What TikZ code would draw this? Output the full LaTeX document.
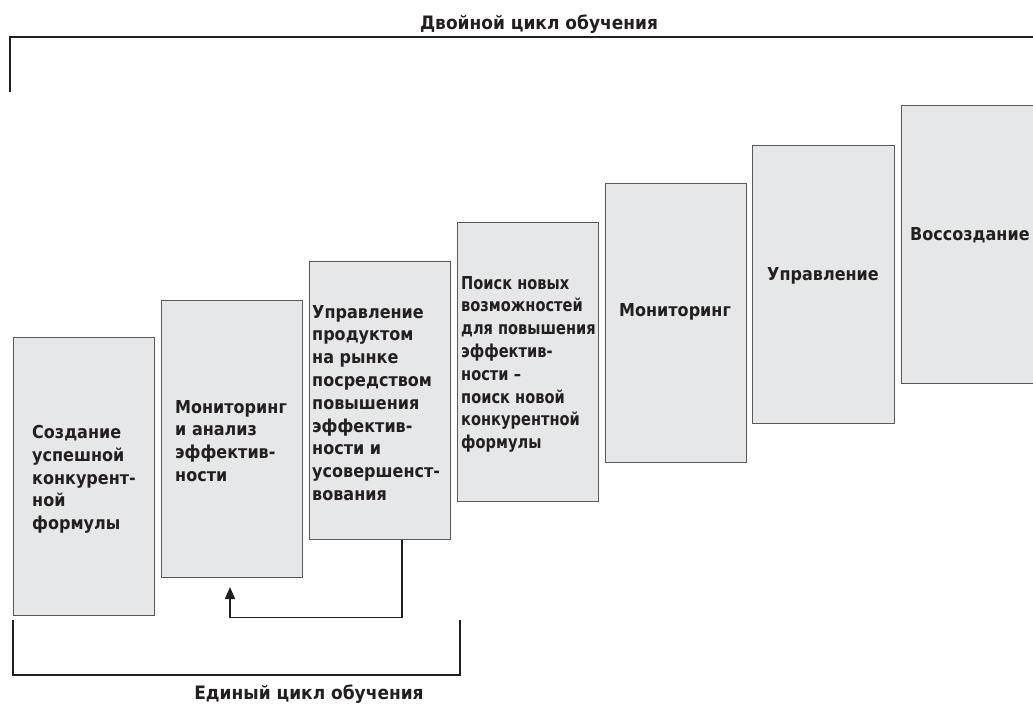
\documentclass[tikz,border=0pt]{standalone}
\usepackage{fontspec}
\setmainfont[FakeStretch=0.9]{DejaVu Sans}
\newfontfamily\narrowfont[FakeStretch=0.82]{DejaVu Sans}
\newfontfamily\titlefont[FakeStretch=0.92]{DejaVu Sans}
\usetikzlibrary{arrows.meta}
\definecolor{boxfill}{HTML}{E6E7E8}
\definecolor{boxline}{HTML}{58595B}
\definecolor{ink}{HTML}{231F20}
\tikzset{
  stagebox/.style={draw=boxline, fill=boxfill, line width=1.4pt, rectangle, inner sep=0pt, anchor=north west},
  stagetext/.style={anchor=north west, inner sep=0pt, align=left, text=ink,
    font=\fontsize{17.8}{22.8}\selectfont\bfseries},
  bracket/.style={draw=ink, line width=1.9pt},
  title/.style={inner sep=0pt, text=ink, font=\titlefont\fontsize{18.5}{22.8}\selectfont\bfseries},
  loop/.style={draw=ink, line width=1.6pt}
}
\begin{document}
\begin{tikzpicture}[x=1pt,y=-1pt]
\useasboundingbox (0,0) rectangle (1033,704);
\clip (0,0) rectangle (1033,704);
% boxes
\node[stagebox, minimum width=141pt, minimum height=278pt] (b1) at (13,337) {};
\node[stagebox, minimum width=141pt, minimum height=277pt] (b2) at (161,300) {};
\node[stagebox, minimum width=141pt, minimum height=278pt] (b3) at (309,261) {};
\node[stagebox, minimum width=141pt, minimum height=279pt] (b4) at (457,222) {};
\node[stagebox, minimum width=141pt, minimum height=279pt] (b5) at (605,183) {};
\node[stagebox, minimum width=142pt, minimum height=278pt] (b6) at (752,145) {};
\node[stagebox, minimum width=150pt, minimum height=278pt] (b7) at (901,105) {};
% texts
\node[stagetext] (t1) at (32,425) {Создание\\успешной\\конкурент-\\ной\\формулы};
\node[stagetext] (t2) at (175,400) {Мониторинг\\и анализ\\эффектив-\\ности};
\node[stagetext] (t3) at (312,305) {Управление\\продуктом\\на рынке\\посредством\\повышения\\эффектив-\\ности и\\усовершенст-\\вования};
\node[stagetext, font=\narrowfont\fontsize{17.8}{22.8}\selectfont\bfseries] (t4) at (461,276) {Поиск новых\\возможностей\\для повышения\\эффектив-\\ности –\\поиск новой\\конкурентной\\формулы};
\node[stagetext] (t5) at (619,303) {Мониторинг};
\node[stagetext] (t6) at (767,267) {Управление};
\node[stagetext] (t7) at (910,227) {Воссоздание};
% titles
\node[title, anchor=north] (top) at (539,15) {Двойной цикл обучения};
\node[title, anchor=north] (bottom) at (309,685) {Единый цикл обучения};
% top bracket
\coordinate (tl) at (10,92);
\coordinate (tc) at (10,37);
\coordinate (tr) at (1040,37);
\draw[bracket] (tl) -- (tc) -- (tr);
% bottom bracket
\coordinate (bl) at (13,620);
\coordinate (bbl) at (13,675);
\coordinate (bbr) at (460,675);
\coordinate (br) at (460,620);
\draw[bracket] (bl) -- (bbl) -- (bbr) -- (br);
% feedback loop
\coordinate (lstart) at (402,539);
\coordinate (lend) at (230,587);
\draw[loop, -{Triangle[length=12pt,width=10pt]}] (b3.south -| lstart) -- ++(0,77) -| (lend);
\end{tikzpicture}
\end{document}
